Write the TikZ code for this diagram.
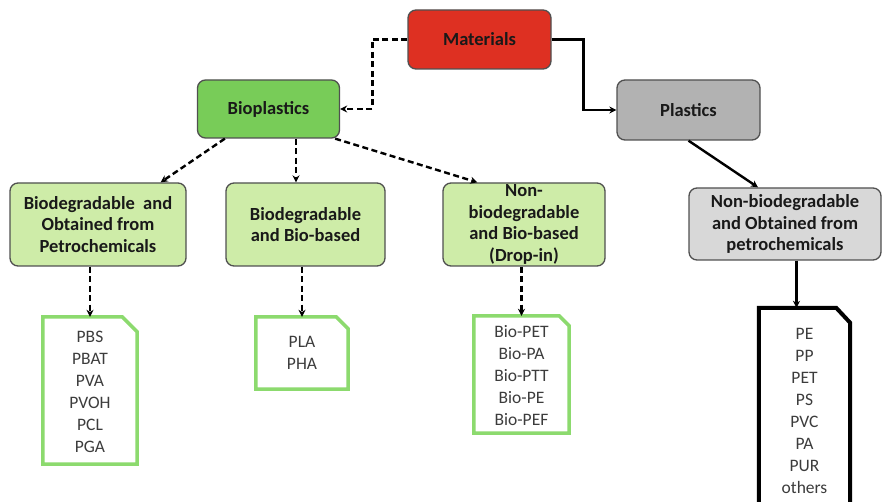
\documentclass[tikz,border=0pt]{standalone}
\usepackage{fontspec}
\setmainfont{Carlito}
\usetikzlibrary{arrows.meta,positioning}
\definecolor{matred}{RGB}{222,48,34}
\definecolor{biogreen}{RGB}{120,204,88}
\definecolor{lightgreen}{RGB}{206,236,168}
\definecolor{plgray}{RGB}{178,178,178}
\definecolor{ltgray}{RGB}{216,216,216}
\definecolor{listgreen}{RGB}{140,218,110}
\definecolor{bordergray}{RGB}{80,80,80}
\definecolor{txtgray}{RGB}{60,60,60}
\tikzset{
  catbox/.style={draw=bordergray, line width=1.3pt, rounded corners=8pt, align=center,
    font=\fontsize{18.5}{21.5}\selectfont\bfseries, text=black!90, inner sep=2pt},
  listtext/.style={align=center, font=\fontsize{17.5}{22}\selectfont, text=txtgray, inner sep=0pt},
  dasharrow/.style={line width=2.4pt, dash pattern=on 6pt off 3.5pt, -{Stealth[length=7pt,width=7pt]}},
  solidarrow/.style={line width=2.4pt, -{Stealth[length=7pt,width=7pt]}},
  greenframe/.style={draw=listgreen, line width=3.5pt, line join=miter},
  blackframe/.style={draw=black, line width=4pt, line join=miter}
}
\begin{document}
\begin{tikzpicture}[x=1pt,y=-1pt]
\clip (0,0) rectangle (883,502);
\fill[white] (0,0) rectangle (883,502);

% category boxes
\node[catbox, fill=matred, minimum width=143pt, minimum height=59pt] (mat) at (479.5,39.5) {Materials};
\node[catbox, fill=biogreen, minimum width=142pt, minimum height=58pt] (bio) at (268.5,109) {Bioplastics};
\node[catbox, fill=plgray, minimum width=143pt, minimum height=60pt] (pla) at (688.5,110) {Plastics};
\node[catbox, fill=lightgreen, minimum width=176pt, minimum height=83pt] (b1) at (98,224.5) {Biodegradable\ \ and\\Obtained from\\Petrochemicals};
\node[catbox, fill=lightgreen, minimum width=159pt, minimum height=83pt] (b2) at (305.5,224.5) {Biodegradable\\and Bio-based};
\node[catbox, fill=lightgreen, minimum width=162pt, minimum height=83pt, inner sep=0pt] (b3) at (524,224.5) {Non-\\biodegradable\\and Bio-based\\(Drop-in)};
\node[catbox, fill=ltgray, minimum width=192pt, minimum height=72pt] (g) at (785,224) {Non-biodegradable\\and Obtained from\\petrochemicals};

% list boxes
\node[listtext, minimum width=94pt, minimum height=147pt] (l1) at (90,392) {PBS\\PBAT\\PVA\\PVOH\\PCL\\PGA};
\draw[greenframe] ([yshift=1.5pt]l1.south west) -- ([yshift=1.5pt]l1.north west) -- ([xshift=-15pt,yshift=1.5pt]l1.north east) -- ([yshift=-13.5pt]l1.north east) -- ([yshift=1.5pt]l1.south east) -- cycle;

\node[listtext, minimum width=92pt, minimum height=72pt] (l2) at (302,353) {PLA\\PHA};
\draw[greenframe] (l2.south west) -- (l2.north west) -- ([xshift=-12pt]l2.north east) -- ([yshift=-12pt]l2.north east) -- (l2.south east) -- cycle;

\node[listtext, minimum width=95pt, minimum height=117pt] (l3) at (521.5,376) {Bio-PET\\Bio-PA\\Bio-PTT\\Bio-PE\\Bio-PEF};
\draw[greenframe] ([yshift=1.5pt]l3.south west) -- ([yshift=1.5pt]l3.north west) -- ([xshift=-10pt,yshift=1.5pt]l3.north east) -- ([yshift=-8.5pt]l3.north east) -- ([yshift=1.5pt]l3.south east) -- cycle;

\node[listtext, minimum width=91pt, minimum height=206pt] (l4) at (804.5,411) {PE\\PP\\PET\\PS\\PVC\\PA\\PUR\\others};
\draw[blackframe] (l4.south west) -- (l4.north west) -- ([xshift=-14pt]l4.north east) -- ([yshift=-15pt]l4.north east) -- (l4.south east) -- cycle;

% connectors
\draw[dasharrow] (mat.west) -- ++(-35,0) |- (bio.east);
\draw[solidarrow] (mat.east) -- ++(32,0) |- (pla.west);
\draw[dasharrow] ([xshift=28pt]bio.south west) -- ([xshift=-26pt]b1.north east);
\draw[dasharrow] ([xshift=27.5pt]bio.south) -- ([xshift=-9.5pt]b2.north);
\draw[dasharrow] ([xshift=-5pt]bio.south east) -- ([xshift=35pt]b3.north west);
\draw[solidarrow] (pla.south) -- ([xshift=-27pt]g.north);
\draw[dasharrow] (b1.south -| l1.north) -- ([yshift=1.5pt]l1.north);
\draw[dasharrow] (b2.south -| l2.north) -- (l2.north);
\draw[dasharrow] (b3.south -| l3.north) -- ([yshift=1.5pt]l3.north);
\draw[solidarrow] ([xshift=-8pt]g.south -| l4.north) -- ([xshift=-8pt]l4.north);
\end{tikzpicture}
\end{document}
